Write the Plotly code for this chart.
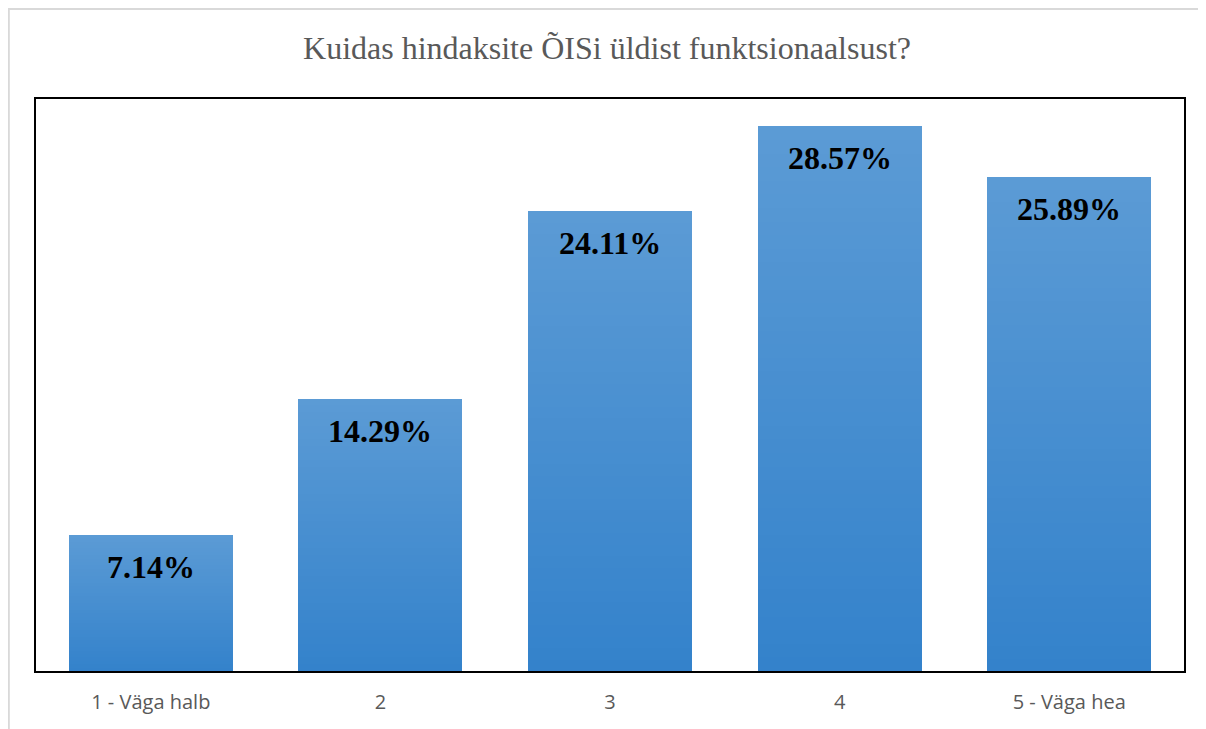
import plotly.graph_objects as go

categories = ["1 - Väga halb", "2", "3", "4", "5 - Väga hea"]
values = [7.14, 14.29, 24.11, 28.57, 25.89]
labels = ["7.14%", "14.29%", "24.11%", "28.57%", "25.89%"]
title_text = "Kuidas hindaksite ÕISi üldist funktsionaalsust?"

TOP = (91, 155, 213)
BOTTOM = (52, 130, 203)
N = 40

W, H = 1198, 721  # page body has an 8px margin

fig = go.Figure()
for i in range(N):
    t = (i + 0.5) / N  # 0 at bottom -> 1 at top
    c = tuple(round(BOTTOM[k] + (TOP[k] - BOTTOM[k]) * t) for k in range(3))
    fig.add_trace(go.Bar(
        x=categories,
        y=[v / N for v in values],
        marker=dict(color="rgb(%d,%d,%d)" % c, line=dict(width=0)),
        hoverinfo="skip",
        showlegend=False,
    ))

for idx, (v, lab) in enumerate(zip(values, labels)):
    fig.add_annotation(
        x=idx, y=v, text="<b>%s</b>" % lab, showarrow=False,
        yanchor="middle", yshift=-32,
        font=dict(family="Liberation Serif", size=32, color="black"),
    )

fig.add_shape(type="rect", xref="paper", yref="paper",
              x0=-27.2 / 1148, x1=1.2, y0=-0.3, y1=1.1573,
              line=dict(color="#D9D9D9", width=2), layer="below")

fig.update_layout(
    width=W, height=H,
    margin=dict(l=28, r=22, t=91, b=58),
    paper_bgcolor="white", plot_bgcolor="white",
    barmode="stack", bargap=0.286,
    title=dict(text=title_text, x=0.5, xanchor="center", y=1 - 40 / H,
               yanchor="middle",
               font=dict(family="Liberation Serif", size=32, color="#595959")),
    xaxis=dict(showline=True, mirror=True, linecolor="black", linewidth=1.5,
               ticks="", ticklabelstandoff=12,
               tickfont=dict(family="Open Sans", size=20, color="#595959"),
               showgrid=False),
    yaxis=dict(range=[0, 30], showline=True, mirror=True, linecolor="black",
               linewidth=1.5, showticklabels=False, showgrid=False,
               zeroline=False, ticks=""),
)

fig.write_html("out.html")
